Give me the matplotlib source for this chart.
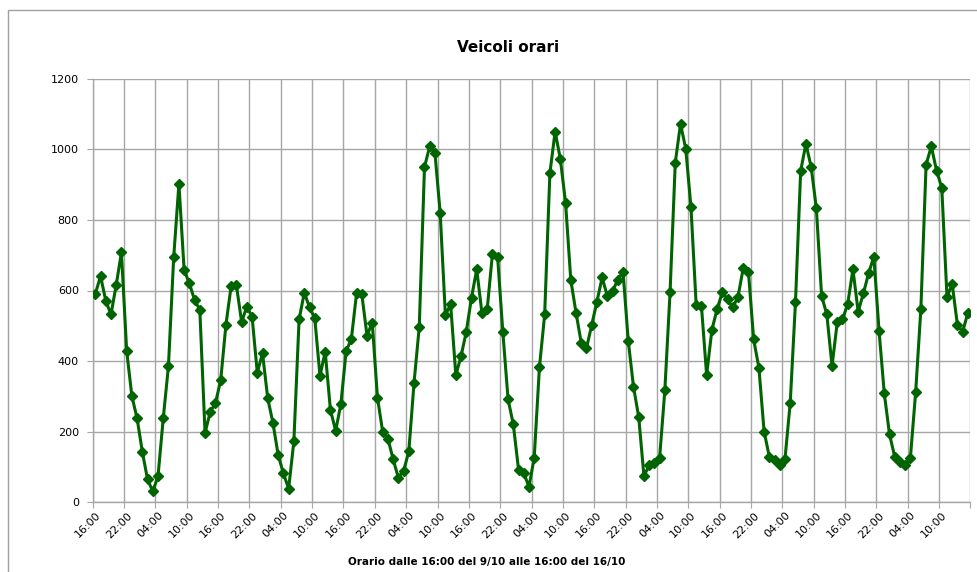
import numpy as np
import matplotlib
matplotlib.use("Agg")
import matplotlib.pyplot as plt
from matplotlib.patches import Rectangle

# vehicles per hour, from 16:00 on 9/10 to 15:00 on 16/10
veicoli = [
    590, 641, 571, 532, 616, 708, 429, 300, 237, 142, 64, 30,
    73, 237, 386, 694, 902, 658, 620, 573, 545, 196, 256, 281,
    346, 503, 613, 615, 511, 554, 526, 367, 422, 294, 224, 133,
    81, 38, 172, 518, 594, 552, 521, 358, 426, 261, 202, 278,
    428, 462, 592, 590, 472, 509, 296, 199, 180, 121, 69, 88,
    144, 338, 497, 950, 1009, 990, 821, 530, 561, 360, 414, 483,
    580, 660, 535, 547, 703, 694, 481, 291, 220, 92, 82, 43,
    126, 382, 532, 933, 1051, 973, 849, 630, 537, 452, 436, 502,
    568, 637, 584, 599, 630, 653, 457, 327, 241, 74, 104, 112,
    125, 317, 595, 963, 1073, 1002, 837, 559, 557, 360, 488, 547,
    595, 575, 552, 582, 663, 653, 461, 381, 200, 128, 118, 104,
    123, 282, 566, 940, 1016, 951, 833, 585, 532, 386, 510, 518,
    562, 660, 540, 592, 649, 696, 485, 308, 192, 128, 114, 104,
    126, 311, 547, 957, 1009, 940, 892, 582, 618, 502, 483, 537,
]
etichette_ore = ["16:00", "22:00", "04:00", "10:00"] * 7

titolo = "Veicoli orari"
asse_x = "Orario dalle 16:00 del 9/10 alle 16:00 del 16/10"

verde = "#006400"
griglia = "#a6a6a6"

fig = plt.figure(figsize=(9.78, 5.72), dpi=100)
ax = fig.add_axes([92.7 / 978, 1 - 502 / 572, (970.5 - 92.7) / 978, (502 - 79) / 572])

n = len(veicoli)
x = np.arange(n) + 0.5
ax.plot(x, veicoli, color=verde, lw=2.2, marker="D", markersize=5.5,
        markerfacecolor=verde, markeredgecolor=verde, zorder=3)

ax.set_xlim(0, n)
ax.set_ylim(0, 1200)
ax.set_yticks(range(0, 1201, 200))
ax.yaxis.grid(True, color=griglia, lw=1)

ax.set_xticks(np.arange(0, n + 1, 6))
ax.set_xticklabels([])
ax.xaxis.grid(True, color=griglia, lw=1)
ax.set_xticks(np.arange(0, n, 6) + 0.5, minor=True)
ax.set_xticklabels(etichette_ore, minor=True, rotation=45, ha="right",
                   va="top", rotation_mode="anchor", fontsize=8)
ax.tick_params(axis="x", which="minor", length=0, pad=6)
ax.tick_params(axis="x", which="major", length=4, color=griglia, direction="out")
ax.tick_params(axis="y", length=4, color=griglia, labelsize=8, pad=6)

for s in ["top", "right"]:
    ax.spines[s].set_visible(False)
for s in ["left", "bottom"]:
    ax.spines[s].set_color(griglia)
    ax.spines[s].set_linewidth(1)

fig.text(508 / 978, 1 - 47 / 572, titolo, ha="center", va="center",
         fontsize=11, fontweight="bold")
fig.text(487 / 978, 1 - 562 / 572, asse_x, ha="center", va="center",
         fontsize=7.5, fontweight="bold")

fig.patches.append(Rectangle((8 / 978, -0.1), 1.2, 1 - 9.5 / 572 + 0.1,
                             transform=fig.transFigure, fill=False,
                             edgecolor="#a0a0a0", lw=1))

fig.savefig("out.png", dpi=100)
